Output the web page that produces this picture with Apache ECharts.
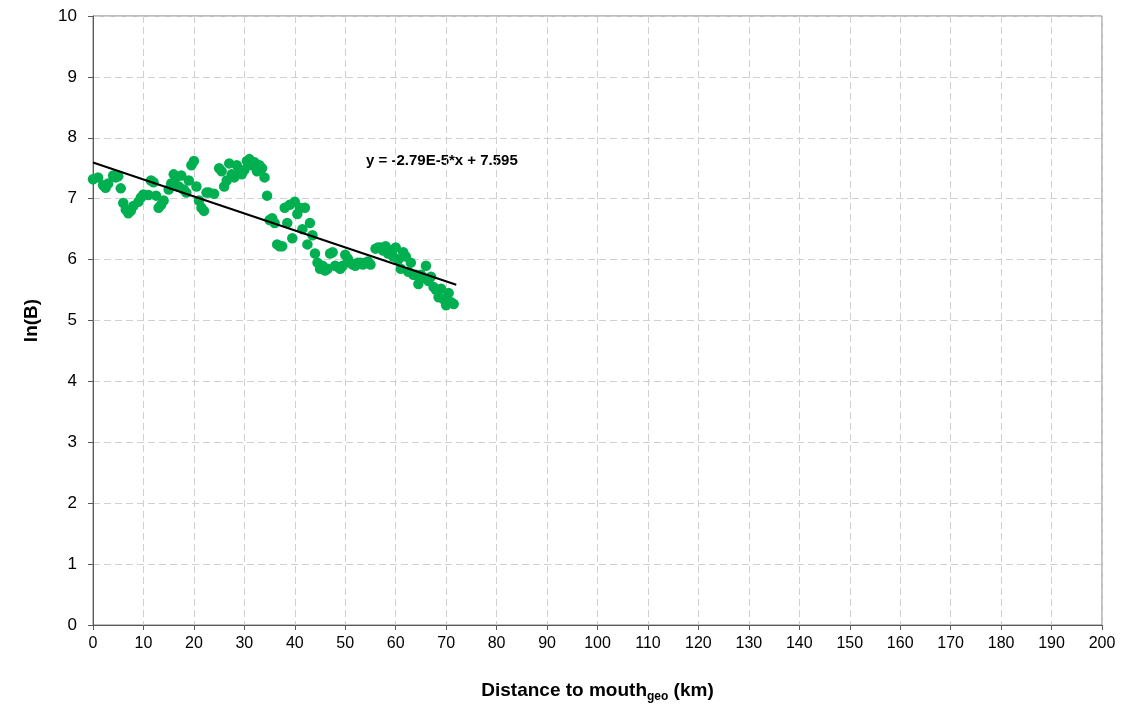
<!DOCTYPE html>
<html><head><meta charset="utf-8">
<script src="https://cdn.jsdelivr.net/npm/echarts@6/dist/echarts.min.js"></script>
<style>html,body{margin:0;padding:0;background:#fff}#c{width:1122px;height:709px}</style>
</head><body><div id="c"></div>
<script>
// Distance to mouth (km)
const distance = [0,1,2,2.5,3,4,4.5,5,5.5,6,6.5,7,7.5,8,9,9.5,10,11,11.5,12,12.5,13,13.5,14,15,15.5,16,16.5,17,17.5,18,18.5,19,19.5,20,20.5,21,21.5,22,22.5,23,24,25,25.5,26,26.5,27,27.5,28,28.5,29,29.5,30,30.5,31,31.5,32,32.5,33,33.5,34,34.5,35,35.5,36,36.5,37,37.5,38,38.5,39,39.5,40,40.5,41,41.5,42,42.5,43,43.5,44,44.5,45,45.5,46,46.5,47,47.5,48,48.5,49,49.5,50,50.5,51,51.5,52,52.5,53,53.5,54,54.5,55,56,56.5,57,57.5,58,58.5,59,59.5,60,60.5,61,61.5,62,62.5,63,63.5,64,64.5,65,65.5,66,66.5,67,67.5,68,68.5,69,69.5,70,70.5,71,71.5];
// ln(B)
const lnB = [7.32,7.35,7.22,7.18,7.25,7.38,7.35,7.37,7.17,6.93,6.82,6.76,6.8,6.88,6.95,7.02,7.07,7.06,7.3,7.27,7.05,6.85,6.9,6.97,7.15,7.25,7.4,7.35,7.2,7.38,7.15,7.1,7.3,7.55,7.62,7.2,6.97,6.85,6.8,7.1,7.1,7.08,7.5,7.45,7.2,7.3,7.58,7.4,7.35,7.55,7.45,7.4,7.47,7.62,7.65,7.55,7.6,7.45,7.55,7.5,7.35,7.05,6.65,6.68,6.6,6.25,6.22,6.22,6.85,6.6,6.9,6.35,6.95,6.75,6.85,6.5,6.85,6.25,6.6,6.4,6.1,5.95,5.85,5.9,5.82,5.85,6.1,6.12,5.9,5.88,5.85,5.9,6.08,6.02,5.95,5.92,5.9,5.95,5.95,5.92,5.95,5.97,5.92,6.18,6.2,6.2,6.15,6.22,6.1,6.15,6.05,6.2,6.0,5.85,6.12,6.05,5.8,5.95,5.75,5.75,5.6,5.75,5.7,5.9,5.65,5.72,5.55,5.5,5.38,5.52,5.35,5.25,5.45,5.3,5.27,5.15,5.68];
const xTicks = [0,10,20,30,40,50,60,70,80,90,100,110,120,130,140,150,160,170,180,190,200];
const slope = -0.0279, intercept = 7.595;
const lineX = [0, 72];

const points = distance.map((d,i)=>[d, lnB[i]]);
const fitLine = lineX.map(x=>[x, intercept + slope*x]);

const chart = echarts.init(document.getElementById('c'), null, {renderer:'canvas'});
const font = 'Liberation Sans, Arial, sans-serif';
chart.setOption({
  animation:false,
  grid:{left:93,right:20,top:16,bottom:84,show:true,borderColor:'#7f7f7f',borderWidth:1},
  xAxis:{type:'value',min:0,max:200,interval:10,
    axisLine:{show:true,onZero:false,lineStyle:{color:'#595959',width:1}},
    axisTick:{show:true,length:5,lineStyle:{color:'#595959'}},
    axisLabel:{color:'#000',fontSize:16,fontFamily:font,margin:11},
    splitLine:{show:true,lineStyle:{color:'#d0d0d0',type:[7,4]}},
    name:'{b|Distance to mouth}{s|geo}{b| (km)}',nameLocation:'middle',nameGap:54,
    nameTextStyle:{rich:{b:{fontSize:19,fontWeight:'bold',fontFamily:font,color:'#000'},s:{fontSize:12,fontWeight:'bold',fontFamily:font,color:'#000',padding:[12,0,0,0]}}}
  },
  yAxis:{type:'value',min:0,max:10,interval:1,
    axisLine:{show:true,lineStyle:{color:'#595959',width:1}},
    axisTick:{show:true,length:5,lineStyle:{color:'#595959'}},
    axisLabel:{color:'#000',fontSize:17,fontFamily:font,margin:16},
    splitLine:{show:true,lineStyle:{color:'#d0d0d0',type:[7,4]}},
    name:'ln(B)',nameLocation:'middle',nameGap:52,nameRotate:90,
    nameTextStyle:{fontSize:19,fontWeight:'bold',fontFamily:font,color:'#000'}
  },
  series:[
    {type:'scatter',data:points,symbolSize:10.5,itemStyle:{color:'#00b050',opacity:1},z:2},
    {type:'line',data:fitLine,symbol:'none',lineStyle:{color:'#000',width:2},z:3}
  ],
  graphic:[{type:'text',x:366,y:153,style:{text:'y = -2.79E-5*x + 7.595',fontSize:15,fontWeight:'bold',fontFamily:font,fill:'#000'}}]
});
</script></body></html>
